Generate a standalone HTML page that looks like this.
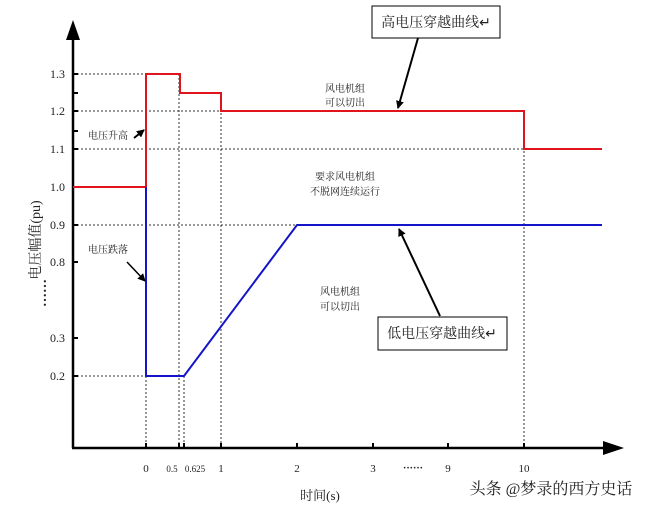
<!DOCTYPE html>
<html><head><meta charset="utf-8"><style>
body{margin:0;background:#fff}
svg text{font-family:"Liberation Serif","Noto Serif CJK SC",serif;fill:#222}
</style></head><body>
<svg width="650" height="510" viewBox="0 0 650 510" xmlns="http://www.w3.org/2000/svg">
<defs><marker id="ah" markerWidth="8" markerHeight="8" refX="7" refY="4" orient="auto" markerUnits="userSpaceOnUse"><path d="M0,0 L8,4 L0,8 z" fill="#000"/></marker></defs>
<g stroke="#333" stroke-width="1" stroke-dasharray="2,2" fill="none">
<line x1="73" y1="74" x2="146" y2="74"/>
<line x1="73" y1="111" x2="221" y2="111"/>
<line x1="73" y1="149" x2="524" y2="149"/>
<line x1="73" y1="225" x2="297" y2="225"/>
<line x1="73" y1="376" x2="146" y2="376"/>
<line x1="146" y1="376" x2="146" y2="448"/>
<line x1="179" y1="74" x2="179" y2="448"/>
<line x1="184" y1="376" x2="184" y2="448"/>
<line x1="221" y1="93" x2="221" y2="448"/>
<line x1="524" y1="111" x2="524" y2="448"/>
</g>
<g stroke="#000" stroke-width="2.5">
<line x1="73" y1="448" x2="73" y2="38"/>
<line x1="72" y1="448" x2="605" y2="448"/>
</g>
<path d="M66,40 L73,20 L80,40 z" fill="#000"/>
<path d="M603,441 L624,448 L603,455 z" fill="#000"/>
<g stroke="#000" stroke-width="2">
<line x1="73" y1="74" x2="78" y2="74"/><line x1="73" y1="93" x2="78" y2="93"/><line x1="73" y1="111" x2="78" y2="111"/><line x1="73" y1="131" x2="78" y2="131"/><line x1="73" y1="149" x2="78" y2="149"/><line x1="73" y1="187" x2="78" y2="187"/><line x1="73" y1="225" x2="78" y2="225"/><line x1="73" y1="262" x2="78" y2="262"/><line x1="73" y1="338" x2="78" y2="338"/><line x1="73" y1="376" x2="78" y2="376"/>
<line x1="146" y1="448" x2="146" y2="443"/><line x1="179" y1="448" x2="179" y2="443"/><line x1="184" y1="448" x2="184" y2="443"/><line x1="221" y1="448" x2="221" y2="443"/><line x1="297" y1="448" x2="297" y2="443"/><line x1="373" y1="448" x2="373" y2="443"/><line x1="448" y1="448" x2="448" y2="443"/><line x1="524" y1="448" x2="524" y2="443"/>
</g>
<polyline points="73,187 146,187 146,74 180,74 180,93 221,93 221,111 524,111 524,149 602,149" fill="none" stroke="#e0141c" stroke-width="2"/>
<polyline points="146,187 146,376 184,376 297,225 602,225" fill="none" stroke="#1414c8" stroke-width="2"/>
<g font-size="12" text-anchor="end">
<text x="65" y="78">1.3</text><text x="65" y="115">1.2</text><text x="65" y="153">1.1</text><text x="65" y="191">1.0</text><text x="65" y="229">0.9</text><text x="65" y="266">0.8</text><text x="65" y="342">0.3</text><text x="65" y="380">0.2</text>
</g>
<text x="56" y="283" font-size="14" font-weight="bold" text-anchor="middle" transform="rotate(-90 56 293)">……</text>
<g font-size="11" text-anchor="middle">
<text x="146" y="472">0</text><text x="172" y="472" font-size="9">0.5</text><text x="195" y="472" font-size="9">0.625</text><text x="221" y="472">1</text><text x="297" y="472">2</text><text x="373" y="472">3</text><text x="448" y="472">9</text><text x="524" y="472">10</text>
<text x="413" y="471" font-weight="bold" font-size="10">······</text>
</g>
<text x="320" y="500" font-size="13" text-anchor="middle">时间(s)</text>
<text x="0" y="0" font-size="14" text-anchor="middle" transform="translate(40 240) rotate(-90)">电压幅值(pu)</text>
<g font-size="10" text-anchor="middle" fill="#444">
<text x="345" y="92">风电机组</text><text x="345" y="106">可以切出</text>
<text x="345" y="180">要求风电机组</text><text x="345" y="195">不脱网连续运行</text>
<text x="340" y="295">风电机组</text><text x="340" y="310">可以切出</text>
<text x="108" y="139">电压升高</text><text x="108" y="253">电压跌落</text>
</g>
<line x1="134" y1="138" x2="144" y2="130" stroke="#000" stroke-width="2" marker-end="url(#ah)"/>
<line x1="127" y1="262" x2="145" y2="281" stroke="#000" stroke-width="1.5" marker-end="url(#ah)"/>
<rect x="372" y="6" width="128" height="32" fill="#fff" stroke="#000" stroke-width="1"/>
<text x="436" y="27" font-size="14" text-anchor="middle" font-family="Liberation Sans,Noto Sans CJK SC,sans-serif">高电压穿越曲线↵</text>
<line x1="418" y1="38" x2="398" y2="108" stroke="#000" stroke-width="2" marker-end="url(#ah)"/>
<rect x="378" y="317" width="129" height="33" fill="#fff" stroke="#000" stroke-width="1"/>
<text x="442" y="338" font-size="14" text-anchor="middle" font-family="Liberation Sans,Noto Sans CJK SC,sans-serif">低电压穿越曲线↵</text>
<line x1="440" y1="316" x2="399" y2="229" stroke="#000" stroke-width="2" marker-end="url(#ah)"/>
<text x="551" y="494" font-size="16" text-anchor="middle" font-family="Liberation Sans,Noto Sans CJK SC,sans-serif" fill="#333">头条 @梦录的西方史话</text>
</svg>
</body></html>
